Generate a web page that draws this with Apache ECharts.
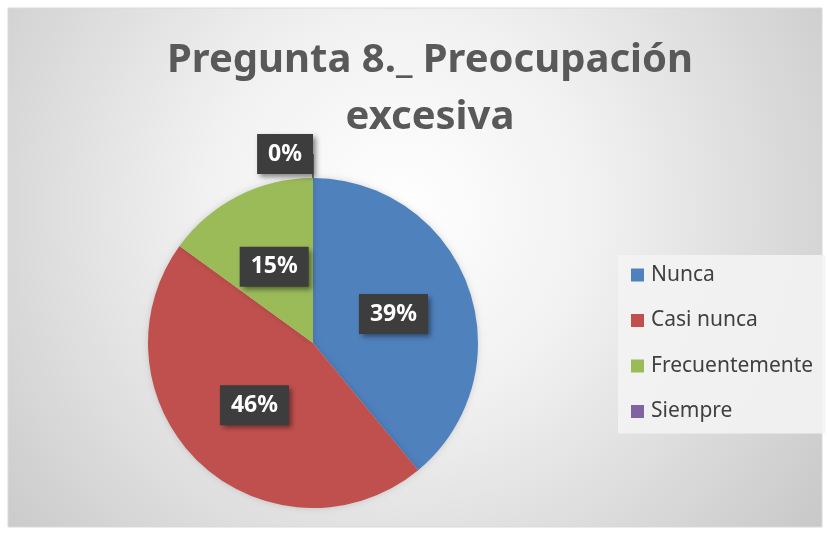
<!DOCTYPE html>
<html>
<head>
<meta charset="utf-8">
<script src="https://cdn.jsdelivr.net/npm/echarts@6/dist/echarts.min.js"></script>
<style>
  html, body { margin: 0; padding: 0; background: #fff; }
  #chart { width: 827px; height: 533px; }
</style>
</head>
<body>
<div id="chart"></div>
<script>
  var categories = ['Nunca', 'Casi nunca', 'Frecuentemente', 'Siempre'];
  var values = [39, 46, 15, 0];
  var colors = ['#4f81bd', '#c0504d', '#9bbb59', '#8064a2'];

  var chart = echarts.init(document.getElementById('chart'));

  var boxLabel = {
    show: true,
    position: 'inside',
    formatter: function (p) { return Math.round(p.percent) + '%'; },
    color: '#fff',
    fontFamily: 'Noto Sans',
    fontWeight: 'bold',
    fontSize: 23,
    backgroundColor: '#3d3d3d',
    padding: [9, 11, 8, 11],
    shadowColor: 'rgba(0,0,0,0.45)',
    shadowBlur: 5,
    shadowOffsetX: 3,
    shadowOffsetY: 3
  };

  var data = categories.map(function (name, i) {
    var item = { name: name, value: values[i], itemStyle: { color: colors[i] } };
    if (values[i] === 0) {
      // the empty slice gets its label outside, with a leader line
      item.label = { position: 'outside', distanceToLabelLine: 0 };
      item.labelLine = { show: true, length: 24, length2: 0, lineStyle: { color: '#595959', width: 1.5 } };
    }
    return item;
  });

  var options = {
    animation: false,
    title: {
      text: 'Pregunta 8._ Preocupación\nexcesiva',
      left: 425,
      top: 27,
      textAlign: 'center',
      textStyle: {
        fontFamily: 'Noto Sans',
        fontWeight: 'bold',
        fontSize: 40,
        lineHeight: 57,
        color: '#595959'
      }
    },
    graphic: [{
      type: 'rect',
      z: -10,
      silent: true,
      shape: { x: 8, y: 8, width: 814, height: 519 },
      style: {
        fill: {
          type: 'radial', x: 400, y: 210, r: 560, global: true,
          colorStops: [
            { offset: 0, color: '#ffffff' },
            { offset: 0.35, color: '#f1f1f1' },
            { offset: 1, color: '#c4c4c4' }
          ]
        },
        stroke: '#d9d9d9',
        lineWidth: 1
      }
    }],
    legend: {
      orient: 'vertical',
      left: 618,
      top: 255,
      padding: [9, 12, 11, 13],
      backgroundColor: 'rgba(243,243,243,0.9)',
      icon: 'rect',
      itemWidth: 13,
      itemHeight: 13,
      itemGap: 23.5,
      data: categories,
      textStyle: {
        fontFamily: 'Noto Sans',
        fontSize: 21,
        lineHeight: 22,
        color: '#404040',
        padding: [0, 0, 0, 2]
      }
    },
    series: [{
      type: 'pie',
      center: [313, 343],
      radius: 165,
      startAngle: 90,
      clockwise: true,
      avoidLabelOverlap: false,
      label: boxLabel,
      labelLine: { show: false },
      itemStyle: {
        shadowColor: 'rgba(0,0,0,0.15)',
        shadowBlur: 6
      },
      data: data
    }]
  };

  chart.setOption(options);
</script>
</body>
</html>
